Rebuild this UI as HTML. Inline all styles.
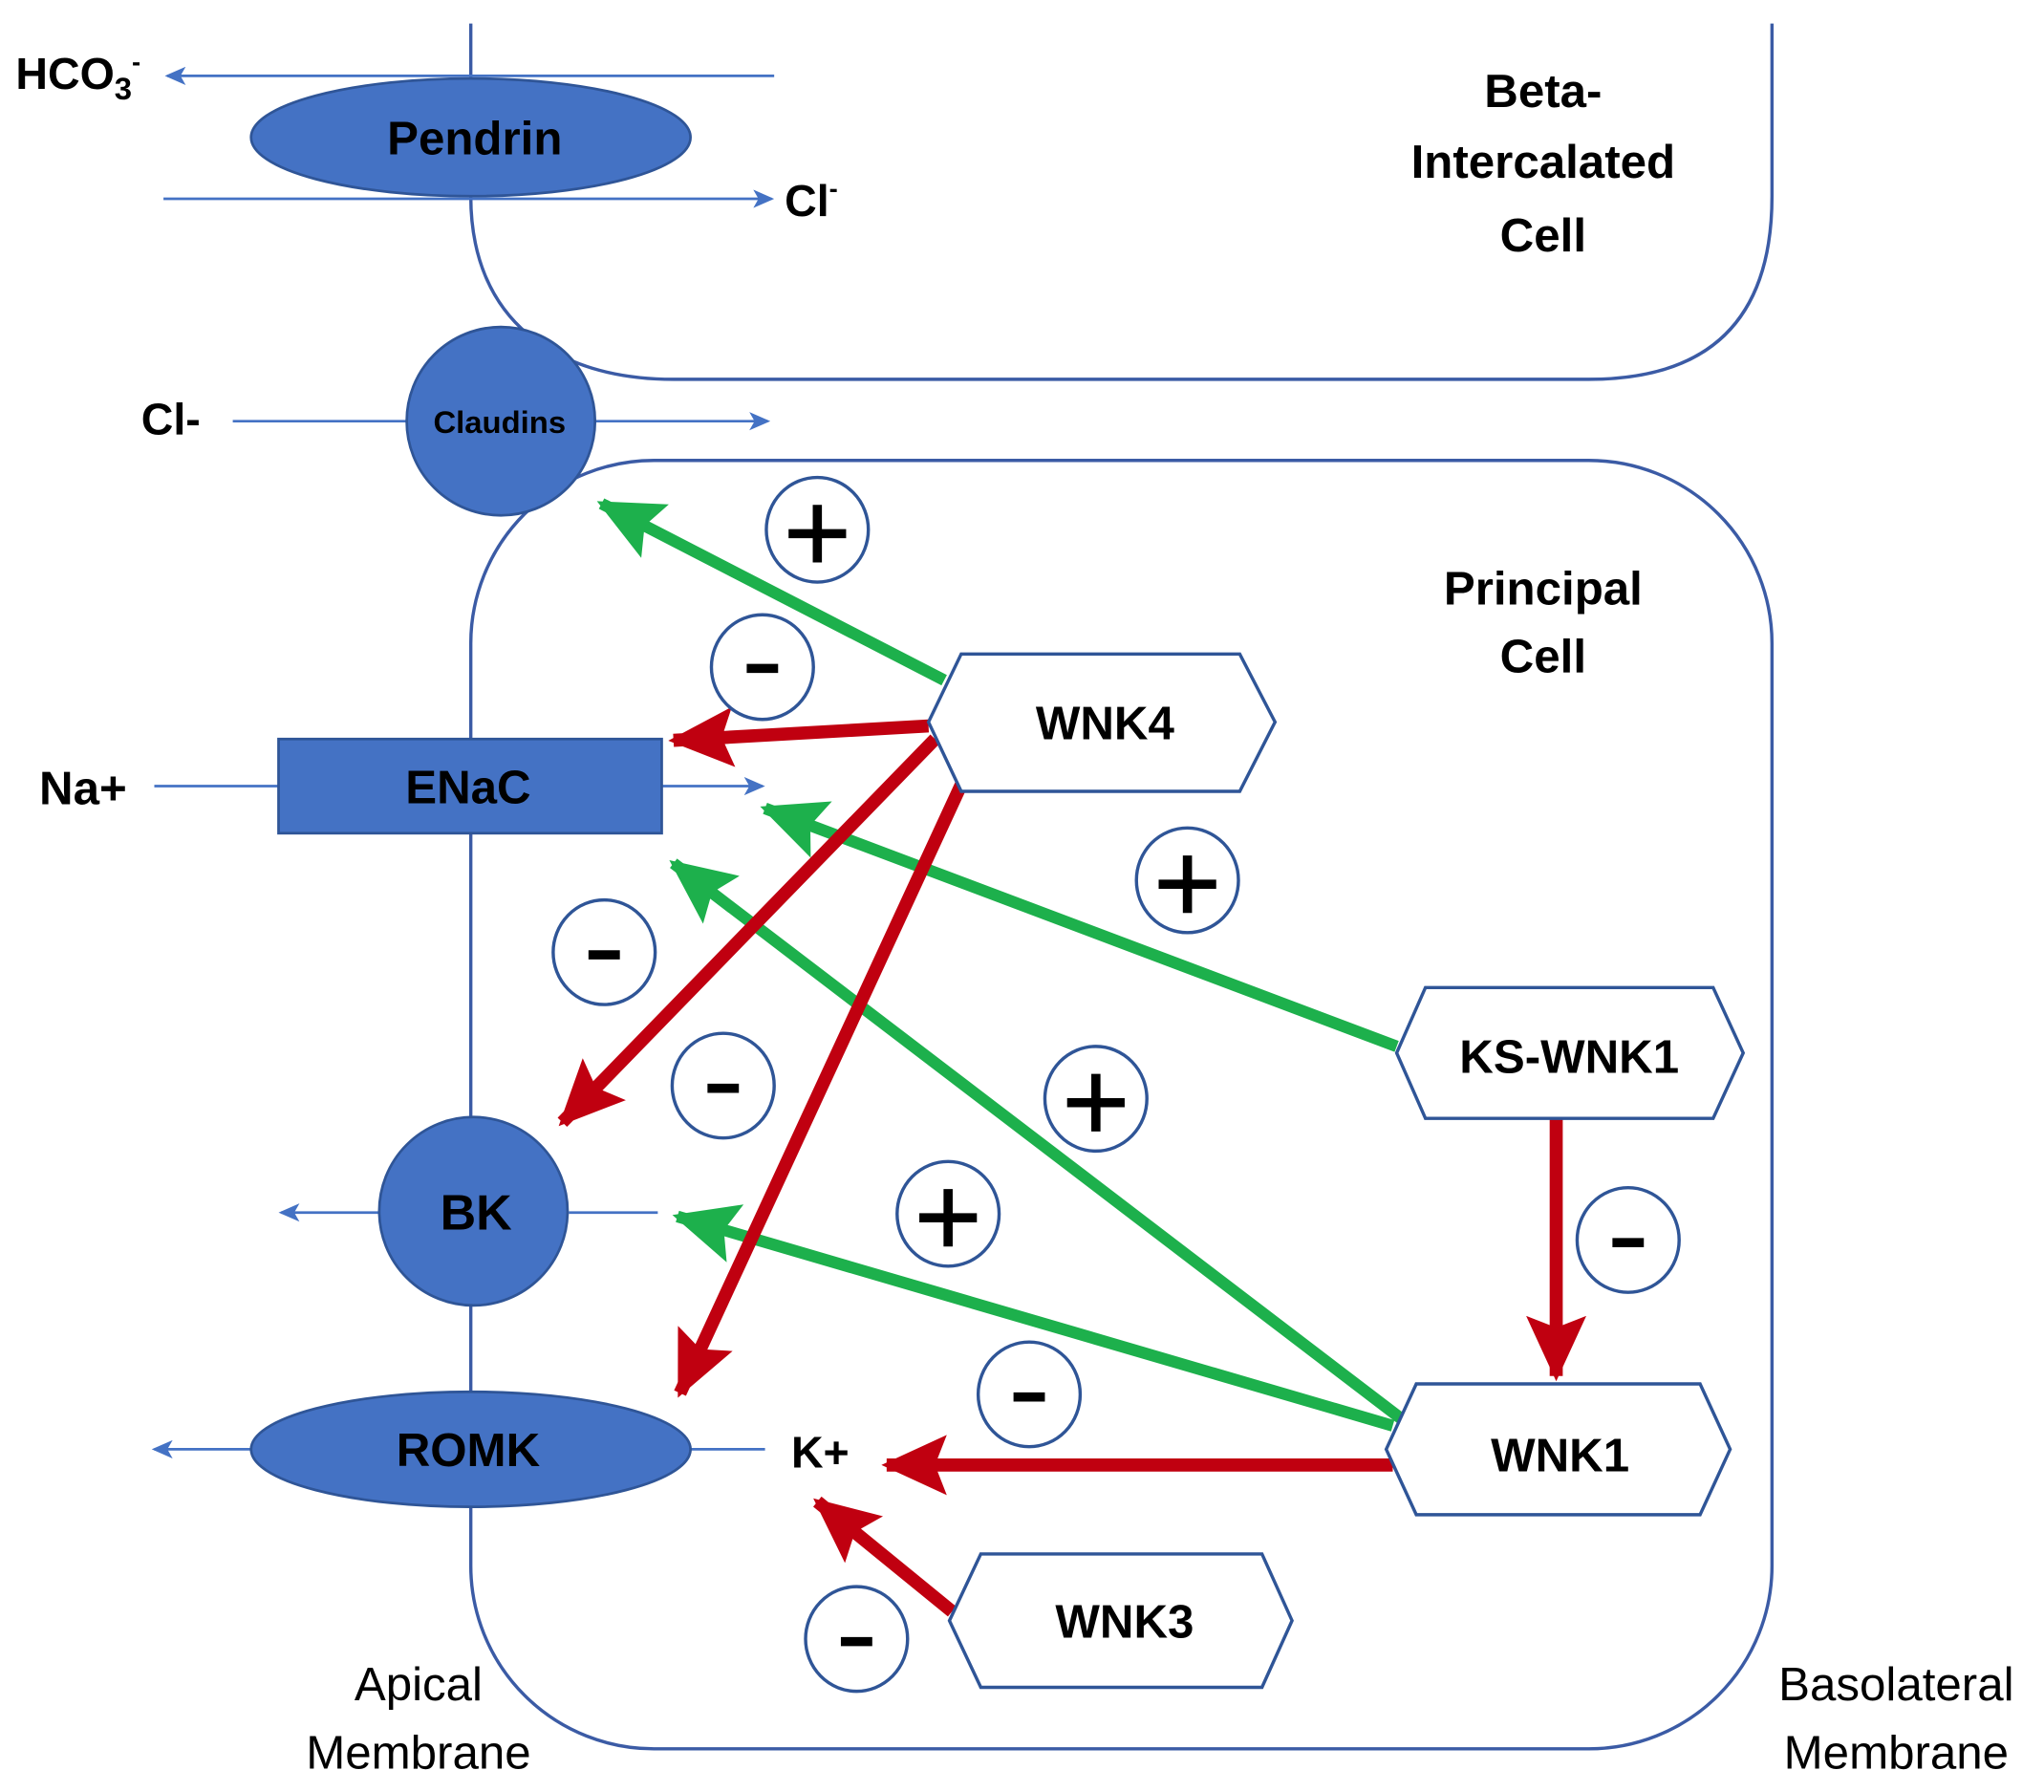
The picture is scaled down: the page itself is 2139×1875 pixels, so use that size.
<!DOCTYPE html>
<html><head><meta charset="utf-8"><style>
html,body{margin:0;padding:0;background:#fff}
svg{display:block}
text{font-family:"Liberation Sans",Arial,sans-serif;font-weight:bold;fill:#000}
</style></head><body>
<svg width="2139" height="1875" viewBox="0 0 1563 1370" preserveAspectRatio="none" xmlns="http://www.w3.org/2000/svg">
<defs>
<marker id="mb" markerUnits="userSpaceOnUse" markerWidth="16" markerHeight="14" refX="14" refY="7" orient="auto"><path d="M0,0 L16,7 L0,14 L4,7 Z" fill="#4472C4"/></marker>
<marker id="mg" markerUnits="userSpaceOnUse" markerWidth="50" markerHeight="50" refX="46" refY="25" orient="auto"><path d="M0,2 L50,25 L0,48 L9,25 Z" fill="#1DB04C"/></marker>
<marker id="mr" markerUnits="userSpaceOnUse" markerWidth="50" markerHeight="50" refX="46" refY="25" orient="auto"><path d="M0,2 L50,25 L0,48 L9,25 Z" fill="#C00010"/></marker>
</defs>
<!-- cells -->
<path d="M360 18 V150 C360 245 425 290 515 290 H1215 Q1355 290 1355 150 V18" fill="none" stroke="#3B5BA5" stroke-width="2.5"/>
<rect x="360" y="352" width="995" height="985" rx="140" fill="none" stroke="#3B5BA5" stroke-width="2.5"/>
<!-- pendrin -->
<line x1="592" y1="58" x2="128" y2="58" stroke="#4472C4" stroke-width="2" marker-end="url(#mb)"/>
<ellipse cx="360" cy="105" rx="168" ry="45" fill="#4472C4" stroke="#2F5597" stroke-width="2"/>
<line x1="125" y1="152" x2="590" y2="152" stroke="#4472C4" stroke-width="2" marker-end="url(#mb)"/>
<text x="363" y="118" font-size="36" text-anchor="middle">Pendrin</text>
<text x="12" y="68" font-size="34">HCO<tspan font-size="24" dy="8">3</tspan><tspan font-size="20" dy="-22">-</tspan></text>
<text x="600" y="165" font-size="34">Cl<tspan font-size="20" dy="-14">-</tspan></text>
<!-- claudins -->
<line x1="178" y1="322" x2="587" y2="322" stroke="#4472C4" stroke-width="2" marker-end="url(#mb)"/>
<circle cx="383" cy="322" r="72" fill="#4472C4" stroke="#2F5597" stroke-width="2"/>
<text x="382" y="331" font-size="24" text-anchor="middle">Claudins</text>
<text x="108" y="332" font-size="34">Cl-</text>
<!-- ENaC -->
<line x1="118" y1="601" x2="583" y2="601" stroke="#4472C4" stroke-width="2" marker-end="url(#mb)"/>
<rect x="213" y="565" width="293" height="72" fill="#4472C4" stroke="#2F5597" stroke-width="2"/>
<text x="358" y="614" font-size="36" text-anchor="middle">ENaC</text>
<text x="30" y="615" font-size="36">Na+</text>
<!-- BK -->
<line x1="290" y1="927" x2="215" y2="927" stroke="#4472C4" stroke-width="2" marker-end="url(#mb)"/>
<line x1="435" y1="927" x2="503" y2="927" stroke="#4472C4" stroke-width="2"/>
<circle cx="362" cy="926" r="72" fill="#4472C4" stroke="#2F5597" stroke-width="2"/>
<text x="364" y="940" font-size="38" text-anchor="middle">BK</text>
<!-- ROMK -->
<line x1="192" y1="1108" x2="118" y2="1108" stroke="#4472C4" stroke-width="2" marker-end="url(#mb)"/>
<line x1="528" y1="1108" x2="585" y2="1108" stroke="#4472C4" stroke-width="2"/>
<ellipse cx="360" cy="1108" rx="168" ry="44" fill="#4472C4" stroke="#2F5597" stroke-width="2"/>
<text x="358" y="1121" font-size="36" text-anchor="middle">ROMK</text>
<text x="605" y="1122" font-size="34">K+</text>
<!-- green arrows -->
<g stroke="#1DB04C" stroke-width="9" fill="none">
<line x1="722" y1="520" x2="460" y2="385" marker-end="url(#mg)"/>
<line x1="1068" y1="800" x2="585" y2="618" marker-end="url(#mg)"/>
<line x1="1072" y1="1085" x2="515" y2="660" marker-end="url(#mg)"/>
<line x1="1065" y1="1090" x2="518" y2="930" marker-end="url(#mg)"/>
</g>
<!-- red arrows -->
<g stroke="#C00010" stroke-width="10" fill="none">
<line x1="710" y1="555" x2="515" y2="566" marker-end="url(#mr)"/>
<line x1="715" y1="565" x2="430" y2="858" marker-end="url(#mr)"/>
<line x1="735" y1="600" x2="520" y2="1065" marker-end="url(#mr)"/>
<line x1="1190" y1="855" x2="1190" y2="1052" marker-end="url(#mr)"/>
<line x1="1065" y1="1120" x2="678" y2="1120" marker-end="url(#mr)"/>
<line x1="728" y1="1232" x2="625" y2="1148" marker-end="url(#mr)"/>
</g>
<!-- hexagons -->
<g fill="#fff" stroke="#2F5597" stroke-width="2.5">
<polygon points="710,552 735,500 948,500 975,552 948,605 735,605"/>
<polygon points="1068,805 1090,755 1310,755 1333,805 1310,855 1090,855"/>
<polygon points="1060,1108 1083,1058 1300,1058 1323,1108 1300,1158 1083,1158"/>
<polygon points="726,1239 750,1188 965,1188 988,1239 965,1290 750,1290"/>
</g>
<text x="845" y="565" font-size="36" text-anchor="middle">WNK4</text>
<text x="1200" y="820" font-size="36" text-anchor="middle">KS-WNK1</text>
<text x="1193" y="1125" font-size="36" text-anchor="middle">WNK1</text>
<text x="860" y="1252" font-size="36" text-anchor="middle">WNK3</text>
<!-- signs -->
<g fill="#fff" stroke="#2F5597" stroke-width="2.5">
<ellipse cx="625" cy="405" rx="39" ry="40"/>
<ellipse cx="583" cy="510" rx="39" ry="40"/>
<ellipse cx="908" cy="673" rx="39" ry="40"/>
<ellipse cx="462" cy="728" rx="39" ry="40"/>
<ellipse cx="553" cy="830" rx="39" ry="40"/>
<ellipse cx="838" cy="840" rx="39" ry="40"/>
<ellipse cx="725" cy="928" rx="39" ry="40"/>
<ellipse cx="1245" cy="948" rx="39" ry="40"/>
<ellipse cx="787" cy="1066" rx="39" ry="40"/>
<ellipse cx="655" cy="1253" rx="39" ry="40"/>
</g>
<g stroke="#000" stroke-width="7">
<path d="M603 408 H647 M625 386 V430"/>
<path d="M886 676 H930 M908 654 V698"/>
<path d="M816 843 H860 M838 821 V865"/>
<path d="M703 931 H747 M725 909 V953"/>
<path d="M571 511 H595"/>
<path d="M450 730 H474"/>
<path d="M541 832 H565"/>
<path d="M1233 950 H1257"/>
<path d="M775 1068 H799"/>
<path d="M643 1255 H667"/>
</g>
<!-- labels -->
<g font-size="36" text-anchor="middle">
<text x="1180" y="82">Beta-</text>
<text x="1180" y="136">Intercalated</text>
<text x="1180" y="192">Cell</text>
<text x="1180" y="462">Principal</text>
<text x="1180" y="514">Cell</text>
</g>
<g font-size="36" text-anchor="middle">
<text x="320" y="1300" style="font-weight:normal">Apical</text>
<text x="320" y="1352" style="font-weight:normal">Membrane</text>
<text x="1450" y="1300" style="font-weight:normal">Basolateral</text>
<text x="1450" y="1352" style="font-weight:normal">Membrane</text>
</g>
</svg>
</body></html>
